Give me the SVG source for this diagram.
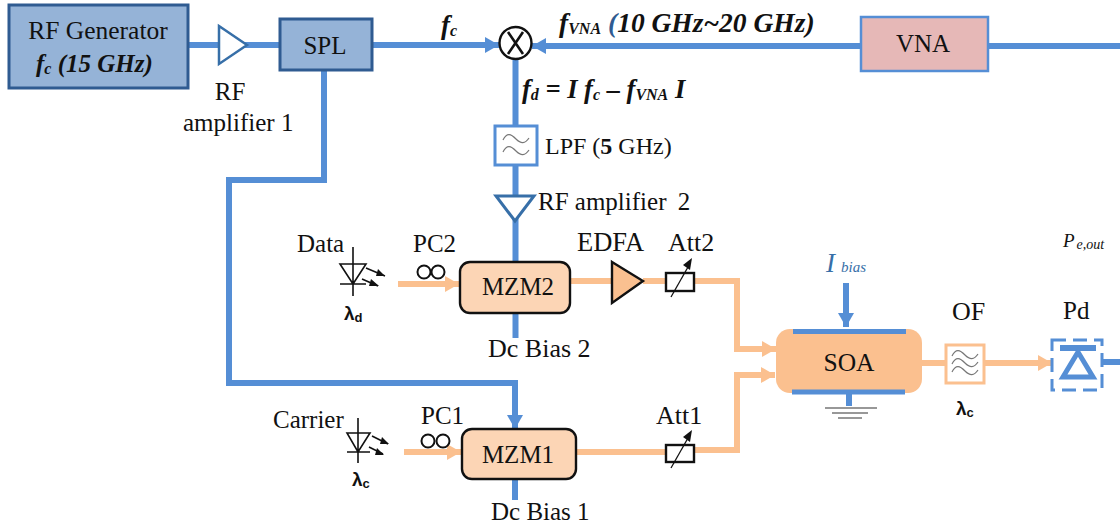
<svg xmlns="http://www.w3.org/2000/svg" width="1120" height="524" viewBox="0 0 1120 524">
<style>
text{font-family:"Liberation Serif","Times New Roman",serif;font-size:25px;fill:#111}
.bi{font-weight:bold;font-style:italic}
.sm{font-size:16px}
.lam{font-family:"Liberation Sans",Arial,sans-serif;font-weight:bold;font-size:19px}
.lam2{font-family:"Liberation Sans",Arial,sans-serif;font-weight:bold;font-size:13px}
.blue{fill:none;stroke:#558ed5;stroke-width:6}
.org{fill:none;stroke:#fbc08f;stroke-width:6}
.dev{fill:none;stroke:#111;stroke-width:1.6}
.box{fill:#fcd5b5;stroke:#111;stroke-width:2.4}
</style>
<defs>
<marker id="ab" markerUnits="userSpaceOnUse" markerWidth="16" markerHeight="18" refX="14" refY="8" orient="auto"><path d="M0,0L14,8L0,16z" fill="#558ed5"/></marker>
<marker id="ao" markerUnits="userSpaceOnUse" markerWidth="16" markerHeight="18" refX="14" refY="8" orient="auto"><path d="M0,0L14,8L0,16z" fill="#fbc08f"/></marker>
<path id="wave" d="M-13,0c4,-8 8,-6 13,-1s9,5 13,-1" fill="none" stroke="#777" stroke-width="1.2"/>
</defs>
<g id="connectors">
<path class="blue" d="M188,45H280"/>
<path class="blue" d="M372,45H499" marker-end="url(#ab)"/>
<path class="blue" d="M1120,46H532" marker-end="url(#ab)"/>
<path class="blue" d="M515.500,59V262"/>
<path class="blue" d="M324,70V180H229V383H515V429" marker-end="url(#ab)"/>
<path class="blue" d="M515.500,313V338"/>
<path class="blue" d="M515,479V500"/>
<path class="blue" d="M846,283V327" marker-end="url(#ab)"/>
<path class="blue" d="M849,392V406"/>
<path class="blue" d="M1102,362H1120"/>
<path class="org" d="M398,284H459" marker-end="url(#ao)"/>
<path class="org" d="M570,281H612M643,281H666"/>
<path class="org" d="M694,281H737V349H776" marker-end="url(#ao)"/>
<path class="org" d="M576,452H666M694,450H737V375H775" marker-end="url(#ao)"/>
<path class="org" d="M404,452H461" marker-end="url(#ao)"/>
<path class="org" d="M922,363H945"/>
<path class="org" d="M984,363H1052" marker-end="url(#ao)"/>
</g>
<g id="rf-generator"><rect x="9" y="5" width="179" height="83" fill="#95b3d7" stroke="#2f5b91" stroke-width="3"/>
<text x="98" y="39" text-anchor="middle" style="font-size:25.500px">RF Generator</text>
<text x="36" y="72" class="bi" style="font-size:25px">f<tspan class="sm" dy="2">c</tspan><tspan dy="-2"> (15 GHz)</tspan></text></g>
<g id="amp1"><path d="M219,26L247,45L219,64z" fill="#fff" stroke="#376fa8" stroke-width="2.500"/>
<text x="230" y="100" text-anchor="middle">RF</text><text x="183" y="131">amplifier 1</text></g>
<g id="spl"><rect x="280" y="19" width="92" height="51" fill="#95b3d7" stroke="#2f5b91" stroke-width="3"/><text x="325" y="54" text-anchor="middle">SPL</text></g>
<g id="mixer"><circle cx="515.500" cy="43" r="16" fill="#fff" stroke="#111" stroke-width="2.400"/><path d="M508,32L523,54M523,32L508,54" stroke="#111" stroke-width="2.600"/></g>
<g id="fc-label"><text x="441" y="34" class="bi" style="font-size:27px">f<tspan class="sm" dy="2">c</tspan></text></g>
<g id="fvna-label"><text x="559" y="32" class="bi" style="font-size:27.500px">f<tspan class="sm" dy="2">VNA</tspan><tspan dy="-2" style="fill:#2f5b91"> (</tspan><tspan>10 GHz~20 GHz)</tspan></text></g>
<g id="vna"><rect x="861" y="17" width="127" height="54" fill="#e6b8b7" stroke="#558ed5" stroke-width="2.500"/><text x="923" y="52" text-anchor="middle">VNA</text></g>
<g id="fd-label"><text x="522" y="98" class="bi" style="font-size:26.500px">f<tspan class="sm" dy="2">d</tspan><tspan dy="-2"> = I f</tspan><tspan class="sm" dy="2">c</tspan><tspan dy="-2"> – f</tspan><tspan class="sm" dy="2">VNA</tspan><tspan dy="-2"> I</tspan></text></g>
<g id="lpf"><rect x="495" y="126" width="42" height="39" fill="#fff" stroke="#558ed5" stroke-width="3"/><use href="#wave" x="516" y="140"/><use href="#wave" x="516" y="152"/><text x="545" y="154" style="font-size:24px">LPF (<tspan font-weight="bold">5</tspan> GHz)</text></g>
<g id="amp2"><path d="M496,196H534L515,221z" fill="#fff" stroke="#376fa8" stroke-width="3"/><text x="538" y="210" style="font-size:25px">RF amplifier<tspan dx="5"> 2</tspan></text></g>
<g id="laser-data"><text x="297" y="252">Data</text>
<path class="dev" d="M353,247V296M340,264H366L353,284zM340,284H366M366,268L385,276M362,279L378,286"/><path d="M385,276L378,269L376,276zM379,286L371,279L369,286z" fill="#111"/>
<text x="344" y="320" class="lam">λ<tspan class="lam2" dy="2">d</tspan></text></g>
<g id="pc2"><text x="413" y="252">PC2</text><circle cx="424" cy="272" r="6.500" fill="#fff" stroke="#111" stroke-width="2"/><circle cx="438" cy="272" r="6.500" fill="#fff" stroke="#111" stroke-width="2"/></g>
<g id="mzm2"><rect class="box" x="460" y="262" width="110" height="51" rx="10"/><text x="518" y="295" text-anchor="middle">MZM2</text><text x="488" y="357" style="font-size:26px">Dc Bias 2</text></g>
<g id="edfa"><path d="M612,262L643,281L612,303z" fill="#fac090" stroke="#111" stroke-width="2.400"/><text x="577" y="251" style="font-size:26.500px">EDFA</text></g>
<g id="att2"><rect x="666" y="273" width="28" height="18" fill="#fff" stroke="#111" stroke-width="2.400"/><path d="M671,297L688,267" stroke="#111" stroke-width="1.300"/><path d="M692,258L683,265L690,270z" fill="#111"/><text x="668" y="251" style="font-size:26px">Att2</text></g>
<g id="laser-carrier"><text x="273" y="428">Carrier</text>
<path class="dev" d="M358,418V463M347,433H370L358,452zM347,452H370M372,436L388,444M369,447L383,454"/><path d="M389,444L382,437L380,444zM384,455L377,448L375,455z" fill="#111"/>
<text x="352" y="486" class="lam">λ<tspan class="lam2" dy="2">c</tspan></text></g>
<g id="pc1"><text x="421" y="424">PC1</text><circle cx="428" cy="441" r="6.500" fill="#fff" stroke="#111" stroke-width="2"/><circle cx="443" cy="441" r="6.500" fill="#fff" stroke="#111" stroke-width="2"/></g>
<g id="mzm1"><rect class="box" x="462" y="429" width="114" height="50" rx="10"/><text x="518" y="463" text-anchor="middle">MZM1</text><text x="491" y="520">Dc Bias 1</text></g>
<g id="att1"><rect x="666" y="445" width="28" height="17" fill="#fff" stroke="#111" stroke-width="2.400"/><path d="M671,468L688,438" stroke="#111" stroke-width="1.300"/><path d="M692,430L683,437L690,442z" fill="#111"/><text x="656" y="424" style="font-size:26px">Att1</text></g>
<g id="soa"><rect x="776" y="329" width="146" height="64" rx="14" fill="#fbc08f"/><path d="M793,331.500H906M792,392H905" stroke="#558ed5" stroke-width="5"/><text x="849" y="371" text-anchor="middle" style="font-size:25.500px">SOA</text>
<path d="M825,408H877M832,413H868M838,418H862" stroke="#777" stroke-width="1.300"/>
<text x="826" y="272" font-style="italic" style="font-size:27px;fill:#376fa8">I<tspan dx="6" style="font-size:15px">bias</tspan></text></g>
<g id="of"><rect x="946" y="345" width="38" height="38" fill="#fff" stroke="#fbc08f" stroke-width="3"/><use href="#wave" x="965" y="356"/><use href="#wave" x="965" y="364"/><use href="#wave" x="965" y="372"/><text x="952" y="320" style="font-size:26px">OF</text><text x="956" y="415" class="lam">λ<tspan class="lam2" dy="2">c</tspan></text></g>
<g id="pd"><rect x="1052" y="340" width="50" height="50" fill="none" stroke="#558ed5" stroke-width="3" stroke-dasharray="14 7"/><path d="M1060,348H1096" stroke="#558ed5" stroke-width="6"/><path d="M1078,352L1063,377H1093z" fill="#fff" stroke="#558ed5" stroke-width="5"/><text x="1063" y="319">Pd</text>
<text x="1063" y="247" font-style="italic" style="font-size:19px">P<tspan style="font-size:14px" dx="2" dy="2">e,out</tspan></text></g>
</svg>
